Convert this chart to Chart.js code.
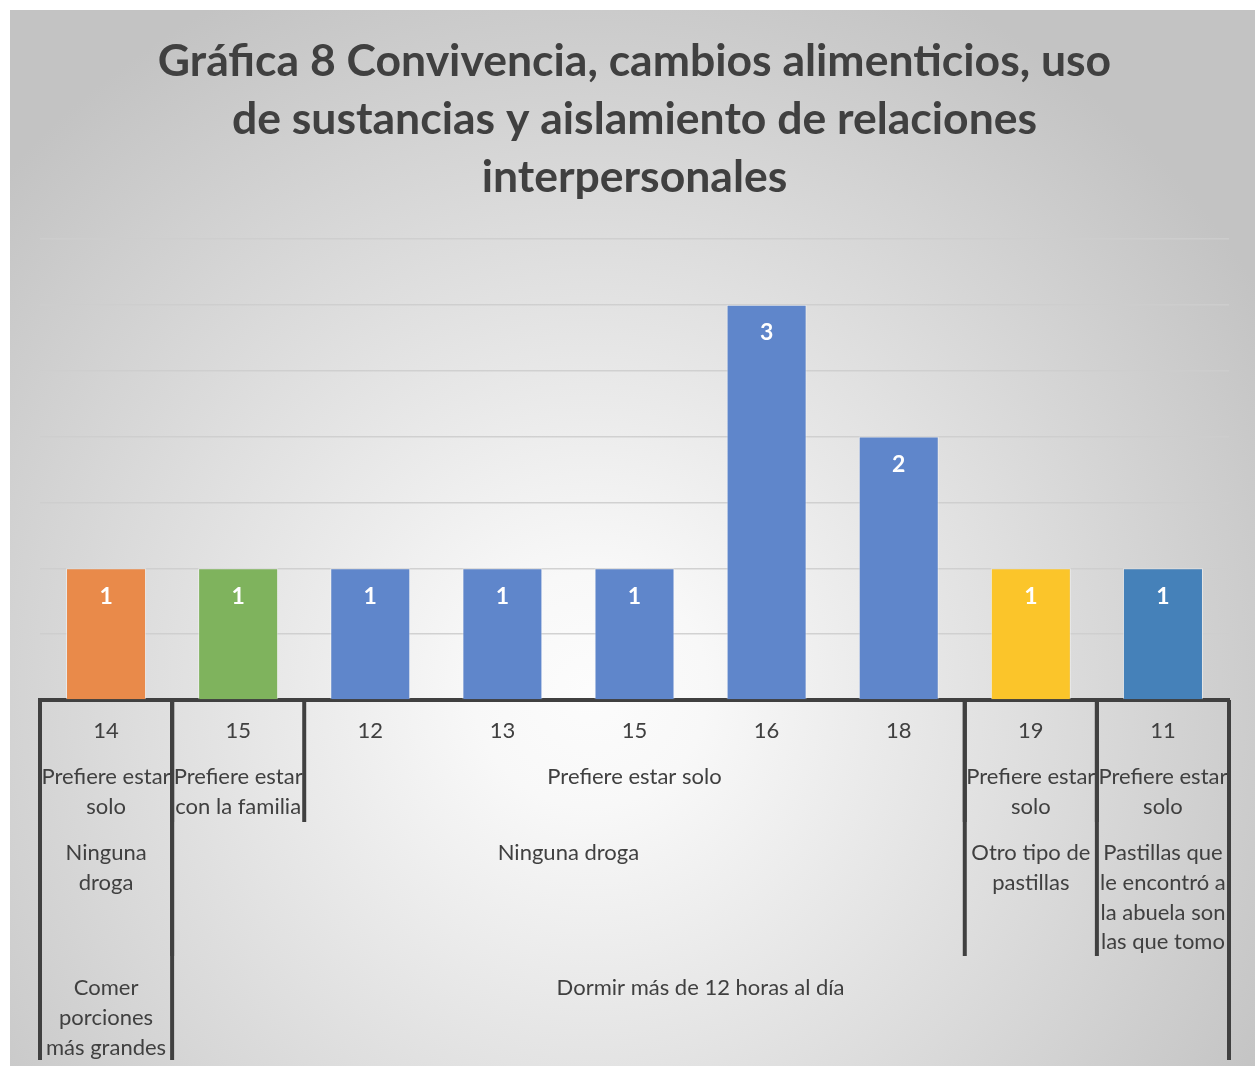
<!DOCTYPE html>
<html>
<head>
<meta charset="utf-8">
<script src="https://cdn.jsdelivr.net/npm/chart.js@4.4.1/dist/chart.umd.min.js"></script>
<style>
  html, body { margin: 0; padding: 0; background: #fff; }
  #wrap { position: absolute; left: 10px; top: 10px; width: 1245px; height: 1056px; }
</style>
</head>
<body>
<div id="wrap"><canvas id="chart"></canvas></div>
<script>
// ── DATA ──────────────────────────────────────────────────────────────────────
const edades = ['14', '15', '12', '13', '15', '16', '18', '19', '11'];
const conteo = [1, 1, 1, 1, 1, 3, 2, 1, 1];

const convivencia = [
  'Prefiere estar solo', 'Prefiere estar con la familia', 'Prefiere estar solo',
  'Prefiere estar solo', 'Prefiere estar solo', 'Prefiere estar solo',
  'Prefiere estar solo', 'Prefiere estar solo', 'Prefiere estar solo'
];
const sustancias = [
  'Ninguna droga', 'Ninguna droga', 'Ninguna droga', 'Ninguna droga', 'Ninguna droga',
  'Ninguna droga', 'Ninguna droga', 'Otro tipo de pastillas',
  'Pastillas que le encontró a la abuela son las que tomo'
];
const alimentacion = [
  'Comer porciones más grandes', 'Dormir más de 12 horas al día', 'Dormir más de 12 horas al día',
  'Dormir más de 12 horas al día', 'Dormir más de 12 horas al día', 'Dormir más de 12 horas al día',
  'Dormir más de 12 horas al día', 'Dormir más de 12 horas al día', 'Dormir más de 12 horas al día'
];

const colores = ['#E98A4A', '#7FB35D', '#5F86CB', '#5F86CB', '#5F86CB', '#5F86CB', '#5F86CB', '#FBC52A', '#4581B9'];

const titulo = [
  'Gráfica 8 Convivencia, cambios alimenticios, uso',
  'de sustancias y aislamiento de relaciones',
  'interpersonales'
];

const FONT = 'Lato, "Open Sans", sans-serif';
const TEXTO = '#404040';

// ── HELPERS ───────────────────────────────────────────────────────────────────
function wrapText(ctx, text, maxW) {
  const words = text.split(' ');
  const lines = [];
  let cur = '';
  words.forEach(w => {
    const test = cur ? cur + ' ' + w : w;
    if (cur && ctx.measureText(test).width > maxW) {
      lines.push(cur);
      cur = w;
    } else {
      cur = test;
    }
  });
  if (cur) lines.push(cur);
  return lines;
}

// group adjacent categories that share the label and every outer label
function grupos(vals, padres) {
  const out = [];
  vals.forEach((v, i) => {
    const key = [v].concat(padres.map(p => p[i])).join('|');
    const last = out[out.length - 1];
    if (last && last.key === key) last.end = i;
    else out.push({ key, label: v, start: i, end: i });
  });
  return out;
}

// ── PLUGINS ───────────────────────────────────────────────────────────────────
const fondo = {
  id: 'fondo',
  beforeDraw(chart) {
    const { ctx, width, height } = chart;
    const g = ctx.createRadialGradient(580, 680, 0, 580, 680, 780);
    g.addColorStop(0, '#fcfcfc');
    g.addColorStop(0.15, '#f8f8f8');
    g.addColorStop(1, '#c3c3c3');
    ctx.save();
    ctx.fillStyle = g;
    ctx.fillRect(0, 0, width, height);
    ctx.restore();
  }
};

const etiquetasDatos = {
  id: 'etiquetasDatos',
  afterDatasetsDraw(chart) {
    const { ctx } = chart;
    const meta = chart.getDatasetMeta(0);
    ctx.save();
    ctx.font = 'bold 23px ' + FONT;
    ctx.fillStyle = '#ffffff';
    ctx.textAlign = 'center';
    ctx.textBaseline = 'middle';
    meta.data.forEach((bar, i) => {
      ctx.fillText(String(conteo[i]), bar.x, bar.y + 28);
    });
    ctx.restore();
  }
};

const niveles = [
  { vals: convivencia, padres: [sustancias, alimentacion], y: 767, fin: 812 },
  { vals: sustancias, padres: [alimentacion], y: 843, fin: 946 },
  { vals: alimentacion, padres: [], y: 978, fin: 1050 }
];

const multinivel = {
  id: 'multinivel',
  afterDraw(chart) {
    const { ctx, chartArea } = chart;
    const x = chart.scales.x;
    const n = edades.length;
    const edge = i => {
      if (i <= 0) return chartArea.left;
      if (i >= n) return chartArea.right;
      return (x.getPixelForValue(i - 1) + x.getPixelForValue(i)) / 2;
    };

    ctx.save();
    ctx.font = '22px ' + FONT;
    ctx.fillStyle = TEXTO;
    ctx.textAlign = 'center';
    ctx.textBaseline = 'middle';

    niveles.forEach(nv => {
      grupos(nv.vals, nv.padres).forEach(g => {
        const x0 = edge(g.start), x1 = edge(g.end + 1);
        const lines = wrapText(ctx, g.label, x1 - x0 + 4);
        lines.forEach((ln, k) => ctx.fillText(ln, (x0 + x1) / 2, nv.y + k * 29.8));
      });
    });

    // separators
    ctx.strokeStyle = '#404040';
    ctx.lineWidth = 4;
    niveles.forEach(nv => {
      const gs = grupos(nv.vals, nv.padres);
      const bordes = [0].concat(gs.map(g => g.end + 1));
      bordes.forEach(b => {
        const xx = edge(b);
        ctx.beginPath();
        ctx.moveTo(xx, chartArea.bottom);
        ctx.lineTo(xx, nv.fin);
        ctx.stroke();
      });
    });
    ctx.restore();
  }
};

// ── CHART ─────────────────────────────────────────────────────────────────────
new Chart(document.getElementById('chart'), {
  type: 'bar',
  data: {
    labels: edades,
    datasets: [{
      data: conteo,
      backgroundColor: colores,
      borderColor: 'rgba(255,255,255,0.45)',
      borderWidth: 1,
      categoryPercentage: 1,
      barPercentage: 0.606
    }]
  },
  options: {
    responsive: true,
    maintainAspectRatio: false,
    animation: false,
    layout: { padding: { left: 30, right: 26, top: 0, bottom: 0 } },
    plugins: {
      legend: { display: false },
      tooltip: { enabled: false },
      title: {
        display: true,
        text: titulo,
        color: TEXTO,
        font: { family: FONT, size: 44.5, weight: 'bold', lineHeight: 58 / 44.5 },
        padding: { top: 23, bottom: 32 }
      }
    },
    scales: {
      x: {
        grid: { display: false, drawTicks: false },
        border: { display: true, color: '#404040', width: 4 },
        ticks: {
          color: TEXTO,
          font: { family: FONT, size: 22 },
          padding: 18,
          maxRotation: 0,
          autoSkip: false
        },
        afterFit(scale) { scale.height = 366; }
      },
      y: {
        min: 0,
        max: 3.5,
        ticks: { display: false, stepSize: 0.5 },
        grid: { color: 'rgba(205,205,205,0.9)', lineWidth: 1.5, drawTicks: false },
        border: { display: false }
      }
    }
  },
  plugins: [fondo, etiquetasDatos, multinivel]
});
</script>
</body>
</html>
